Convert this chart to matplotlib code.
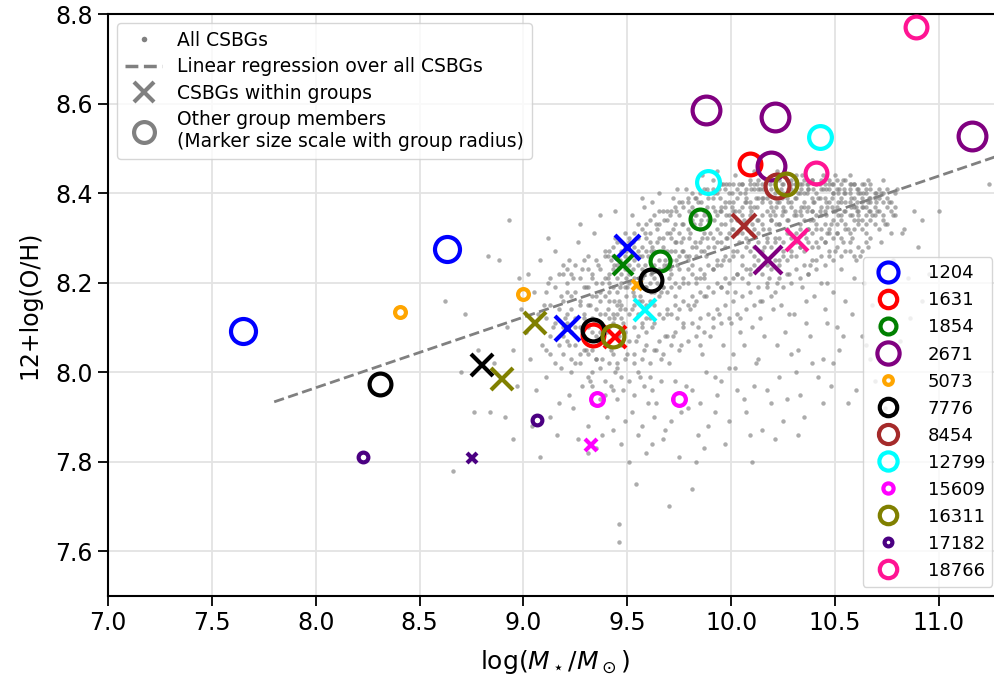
import matplotlib
matplotlib.use("Agg")
import matplotlib.pyplot as plt
from matplotlib.lines import Line2D

# ---------------- data ----------------
# background CSBG cloud: scattered points (hand-estimated)
bg_points = [
    (8.66,7.78),(8.76,7.91),(8.84,7.91),(8.91,7.90),(8.93,8.34),(8.83,8.26),(8.88,8.25),(8.72,8.13),(8.78,8.05),(8.95,8.05),
    (8.97,7.97),(8.86,8.02),(8.92,8.10),(8.98,8.21),(8.70,8.00),(8.62,8.16),(8.95,7.85),(8.99,8.14),
    (9.02,8.22),(9.05,8.18),(9.08,8.25),(9.10,8.15),(9.12,8.20),(9.14,8.10),(9.15,8.27),(9.18,8.17),(9.03,8.03),(9.06,7.96),
    (9.09,8.06),(9.11,7.99),(9.13,8.04),(9.17,7.93),(9.19,8.08),(9.04,7.88),(9.16,7.86),(9.08,7.81),(9.20,8.12),(9.12,8.30),
    (9.19,8.22),(9.01,8.09),(9.07,8.13),(9.13,7.90),(9.18,8.01),
    (9.21,8.18),(9.22,8.25),(9.23,8.14),(9.24,8.21),(9.25,8.10),(9.26,8.29),(9.27,8.16),(9.28,8.23),(9.29,8.12),(9.30,8.19),
    (9.31,8.26),(9.32,8.15),(9.33,8.21),(9.34,8.31),(9.35,8.17),(9.36,8.24),(9.37,8.13),(9.38,8.20),(9.39,8.27),(9.22,8.06),
    (9.25,8.02),(9.28,7.97),(9.30,8.05),(9.33,8.00),(9.36,8.07),(9.39,7.95),(9.24,7.92),(9.31,7.88),(9.35,7.83),(9.27,8.33),
    (9.37,8.35),(9.40,8.09),(9.23,8.00),(9.29,8.08),(9.34,8.11),(9.38,8.03),(9.26,7.85),(9.32,7.98),(9.40,7.90),(9.21,8.11),
    (9.41,8.18),(9.42,8.25),(9.43,8.13),(9.44,8.30),(9.45,8.21),(9.46,8.16),(9.47,8.27),(9.48,8.11),(9.49,8.23),(9.50,8.19),
    (9.51,8.29),(9.52,8.14),(9.53,8.25),(9.54,8.20),(9.55,8.33),(9.56,8.17),(9.57,8.28),(9.58,8.22),(9.59,8.12),(9.60,8.26),
    (9.41,8.22),(9.43,8.28),(9.45,8.15),(9.47,8.20),(9.49,8.31),(9.51,8.24),(9.53,8.17),(9.55,8.27),(9.57,8.21),(9.59,8.30),
    (9.42,8.05),(9.44,8.00),(9.46,8.08),(9.48,7.96),(9.50,8.04),(9.52,7.91),(9.54,8.07),(9.56,7.99),(9.58,8.05),(9.60,7.93),
    (9.43,7.87),(9.47,7.84),(9.51,7.80),(9.55,7.86),(9.59,7.82),(9.46,7.66),(9.46,7.62),(9.44,8.36),(9.52,8.35),(9.58,8.37),
    (9.45,7.94),(9.53,8.02),(9.57,8.10),(9.41,8.10),
    (9.61,8.20),(9.62,8.28),(9.63,8.15),(9.64,8.33),(9.65,8.23),(9.66,8.18),(9.67,8.30),(9.68,8.25),(9.69,8.36),(9.70,8.21),
    (9.71,8.27),(9.72,8.32),(9.73,8.17),(9.74,8.24),(9.75,8.35),(9.76,8.29),(9.77,8.20),(9.78,8.26),(9.79,8.38),(9.80,8.31),
    (9.61,8.31),(9.63,8.24),(9.65,8.36),(9.67,8.19),(9.69,8.27),(9.71,8.22),(9.73,8.33),(9.75,8.26),(9.77,8.30),(9.79,8.23),
    (9.62,8.10),(9.64,8.05),(9.66,7.98),(9.68,8.08),(9.70,8.02),(9.72,7.94),(9.74,8.12),(9.76,8.06),(9.78,7.97),(9.80,8.14),
    (9.63,7.90),(9.67,7.85),(9.71,7.89),(9.75,7.81),(9.79,7.92),(9.65,8.40),(9.72,8.39),(9.78,8.41),(9.69,8.13),(9.77,8.11),
    (9.70,7.70),(9.62,7.96),
    (9.81,8.24),(9.82,8.33),(9.83,8.28),(9.84,8.38),(9.85,8.21),(9.86,8.30),(9.87,8.35),(9.88,8.26),(9.89,8.40),(9.90,8.31),
    (9.91,8.23),(9.92,8.36),(9.93,8.29),(9.94,8.41),(9.95,8.33),(9.96,8.25),(9.97,8.38),(9.98,8.30),(9.99,8.42),(10.00,8.34),
    (9.81,8.37),(9.83,8.20),(9.85,8.32),(9.87,8.27),(9.89,8.34),(9.91,8.39),(9.93,8.24),(9.95,8.37),(9.97,8.28),(9.99,8.35),
    (9.82,8.15),(9.84,8.10),(9.86,8.04),(9.88,8.17),(9.90,8.08),(9.92,7.99),(9.94,8.13),(9.96,8.06),(9.98,8.18),(10.00,8.11),
    (9.85,7.93),(9.89,7.88),(9.93,7.95),(9.97,7.84),(9.83,7.80),(9.91,8.43),(9.96,8.42),(9.87,8.21),(9.95,8.19),(9.99,8.01),
    (10.01,8.27),(10.02,8.36),(10.03,8.31),(10.04,8.40),(10.05,8.24),(10.06,8.34),(10.07,8.38),(10.08,8.29),(10.09,8.42),(10.10,8.33),
    (10.11,8.26),(10.12,8.39),(10.13,8.31),(10.14,8.41),(10.15,8.35),(10.16,8.28),(10.17,8.40),(10.18,8.32),(10.19,8.43),(10.20,8.36),
    (10.01,8.38),(10.03,8.22),(10.05,8.35),(10.07,8.30),(10.09,8.37),(10.11,8.41),(10.13,8.25),(10.15,8.39),(10.17,8.30),(10.19,8.34),
    (10.02,8.18),(10.04,8.12),(10.06,8.06),(10.08,8.20),(10.10,8.10),(10.12,8.02),(10.14,8.16),(10.16,8.08),(10.18,8.21),(10.20,8.14),
    (10.03,7.96),(10.07,7.91),(10.11,7.97),(10.15,7.87),(10.19,7.93),(10.05,8.42),(10.13,8.43),(10.09,8.23),(10.17,8.19),(10.01,8.04),
    (10.21,8.30),(10.22,8.38),(10.23,8.33),(10.24,8.41),(10.25,8.27),(10.26,8.36),(10.27,8.40),(10.28,8.31),(10.29,8.43),(10.30,8.35),
    (10.31,8.29),(10.32,8.40),(10.33,8.33),(10.34,8.42),(10.35,8.37),(10.36,8.30),(10.37,8.41),(10.38,8.34),(10.39,8.43),(10.40,8.38),
    (10.21,8.40),(10.23,8.25),(10.25,8.37),(10.27,8.32),(10.29,8.38),(10.31,8.42),(10.33,8.28),(10.35,8.40),(10.37,8.32),(10.39,8.36),
    (10.22,8.20),(10.24,8.15),(10.26,8.09),(10.28,8.22),(10.30,8.13),(10.32,8.05),(10.34,8.19),(10.36,8.11),(10.38,8.24),(10.40,8.17),
    (10.23,7.99),(10.27,7.94),(10.31,8.00),(10.35,7.90),(10.39,8.02),(10.26,8.44),(10.34,8.44),(10.29,8.26),(10.37,8.22),(10.21,7.85),
    (10.41,8.32),(10.42,8.39),(10.43,8.35),(10.44,8.41),(10.45,8.29),(10.46,8.37),(10.47,8.42),(10.48,8.33),(10.49,8.40),(10.50,8.36),
    (10.51,8.31),(10.52,8.41),(10.53,8.35),(10.54,8.43),(10.55,8.38),(10.56,8.32),(10.57,8.40),(10.58,8.35),(10.59,8.42),(10.60,8.37),
    (10.41,8.25),(10.43,8.20),(10.45,8.14),(10.47,8.26),(10.49,8.18),(10.51,8.10),(10.53,8.23),(10.55,8.16),(10.57,8.27),(10.59,8.21),
    (10.44,8.03),(10.48,7.97),(10.52,8.05),(10.56,7.93),(10.42,8.28),(10.46,8.31),(10.50,8.27),(10.54,8.29),(10.58,8.30),(10.50,8.44),
    (10.61,8.34),(10.62,8.40),(10.63,8.37),(10.64,8.42),(10.65,8.31),(10.66,8.38),(10.67,8.41),(10.68,8.35),(10.69,8.39),(10.70,8.36),
    (10.72,8.40),(10.74,8.33),(10.76,8.38),(10.78,8.35),(10.80,8.41),(10.62,8.26),(10.64,8.20),(10.66,8.28),(10.68,8.15),(10.70,8.23),
    (10.72,8.29),(10.75,8.18),(10.78,8.25),(10.82,8.31),(10.85,8.21),(10.88,8.36),(10.90,8.28),(10.92,8.16),(10.95,8.22),(10.63,8.08),
    (10.67,8.03),(10.71,8.10),(10.76,7.99),(10.81,8.07),(10.86,8.12),(10.60,7.96),(10.74,7.92),(11.24,8.42),(11.00,8.36),(10.92,8.34),
    (10.83,8.32),(10.60,8.25),
    (9.74,8.41),(9.86,8.44),(9.93,8.45),(10.02,8.44),(10.11,8.45),(10.22,8.45),(10.31,8.44),(10.44,8.44),(10.57,8.44),(10.66,8.43),
    (10.73,8.43),(9.57,8.39),(9.62,8.38),
]

# background CSBG cloud: lower, sparser part below the main band (hand-estimated)
bg_lower = [
    (9.22,7.95),(9.27,8.04),(9.33,7.93),(9.38,7.86),(9.42,7.97),(9.49,7.89),(9.53,7.95),(9.57,7.88),(9.61,7.99),(9.64,7.93),
    (9.68,7.87),(9.73,7.98),(9.76,7.91),(9.81,7.96),(9.84,7.86),(9.88,8.00),(9.92,7.91),(9.95,7.98),(9.99,7.89),(10.02,8.01),
    (10.06,7.94),(10.09,7.86),(10.13,8.03),(10.17,7.96),(10.22,8.06),(10.25,7.89),(10.29,8.04),(10.33,7.95),(10.38,8.08),(10.42,7.99),
    (10.46,8.11),(10.49,8.02),(10.54,8.08),(10.58,8.13),(10.65,8.06),(10.69,7.98),(9.66,8.03),(9.72,8.08),(9.85,8.06),(9.91,8.12),
    (10.04,8.09),(10.14,8.12),(10.28,8.13),(10.36,8.16),(10.46,8.20),(9.58,7.97),(9.45,8.02),(9.35,8.03),(9.31,7.82),(9.62,7.84),
    (9.87,7.83),(10.10,7.80),(10.44,7.93),(9.54,7.75),(9.81,7.74),(10.32,7.86),
]

# background CSBG cloud: dense main sequence band, per stellar-mass column (hand-estimated)
bg_core_columns = [
    (9.11,[8.12,8.18,8.05]),(9.13,[8.15,8.21,8.08]),(9.15,[8.11,8.19,8.02]),(9.17,[8.14,8.22,8.06]),
    (9.19,[8.10,8.16,8.24,8.04]),(9.21,[8.13,8.20,8.23,8.07]),(9.23,[8.09,8.17,8.22,8.03]),(9.25,[8.12,8.18,8.24,8.06]),
    (9.27,[8.10,8.15,8.21,8.02]),(9.29,[8.13,8.19,8.25,8.05]),
    (9.31,[8.10,8.15,8.19,8.23,8.04,7.99]),(9.33,[8.12,8.17,8.22,8.09,8.05,7.97]),(9.35,[8.11,8.14,8.20,8.25,8.03,8.08]),
    (9.37,[8.09,8.16,8.18,8.23,8.01,7.94]),(9.39,[8.13,8.17,8.21,8.26,8.06,7.98]),(9.41,[8.12,8.16,8.20,8.27,8.07,8.02]),
    (9.43,[8.11,8.19,8.23,8.26,8.04,7.96]),(9.45,[8.13,8.18,8.24,8.29,8.08,8.01]),(9.47,[8.12,8.15,8.22,8.29,8.06,7.99]),
    (9.49,[8.14,8.19,8.26,8.28,8.09,8.03]),(9.51,[8.13,8.20,8.22,8.30,8.07,7.98]),(9.53,[8.15,8.21,8.28,8.31,8.10,8.04]),
    (9.55,[8.13,8.19,8.24,8.30,8.08,8.00]),(9.57,[8.16,8.23,8.26,8.32,8.11,8.03]),(9.59,[8.15,8.19,8.27,8.33,8.09,8.06]),
    (9.61,[8.16,8.23,8.29,8.34,8.12,8.02]),(9.63,[8.18,8.21,8.27,8.35,8.11,8.05]),(9.65,[8.17,8.25,8.30,8.33,8.13,8.07]),
    (9.67,[8.19,8.23,8.28,8.36,8.12,8.04]),(9.69,[8.18,8.24,8.31,8.34,8.14,8.08]),(9.71,[8.19,8.25,8.30,8.36,8.13,8.06]),
    (9.73,[8.20,8.27,8.29,8.37,8.15,8.09]),(9.75,[8.19,8.23,8.31,8.38,8.14,8.05]),(9.77,[8.21,8.27,8.33,8.37,8.16,8.10]),
    (9.79,[8.20,8.25,8.32,8.39,8.15,8.07]),(9.81,[8.22,8.28,8.34,8.40,8.17,8.11]),(9.83,[8.21,8.26,8.35,8.39,8.16,8.08]),
    (9.85,[8.23,8.29,8.33,8.40,8.18,8.12]),(9.87,[8.22,8.31,8.36,8.41,8.17,8.09]),(9.89,[8.24,8.28,8.35,8.39,8.19,8.13]),
    (9.91,[8.23,8.30,8.37,8.41,8.18,8.10]),(9.93,[8.25,8.32,8.35,8.40,8.20,8.14]),(9.95,[8.24,8.29,8.36,8.42,8.19,8.11]),
    (9.97,[8.26,8.33,8.37,8.41,8.21,8.15]),(9.99,[8.25,8.31,8.38,8.40,8.20,8.12]),(10.01,[8.26,8.32,8.36,8.42,8.21,8.16]),
    (10.03,[8.27,8.34,8.39,8.41,8.22,8.13]),(10.05,[8.26,8.31,8.37,8.42,8.21,8.17]),(10.07,[8.28,8.33,8.39,8.41,8.23,8.14]),
    (10.09,[8.27,8.35,8.38,8.43,8.22,8.18]),(10.11,[8.28,8.32,8.37,8.42,8.24,8.15]),(10.13,[8.29,8.34,8.39,8.41,8.23,8.19]),
    (10.15,[8.27,8.33,8.38,8.42,8.22,8.16]),(10.17,[8.29,8.36,8.39,8.43,8.24,8.20]),(10.19,[8.28,8.34,8.37,8.41,8.23,8.17]),
    (10.21,[8.29,8.35,8.39,8.42,8.25,8.18]),(10.23,[8.30,8.33,8.38,8.43,8.24,8.21]),(10.25,[8.29,8.36,8.40,8.42,8.26,8.19]),
    (10.27,[8.31,8.34,8.39,8.43,8.25,8.22]),(10.29,[8.30,8.37,8.41,8.42,8.27,8.20]),(10.31,[8.31,8.35,8.39,8.43,8.26,8.23]),
    (10.33,[8.32,8.36,8.40,8.42,8.28,8.21]),(10.35,[8.31,8.34,8.38,8.43,8.27,8.24]),(10.37,[8.32,8.37,8.41,8.42,8.29,8.22]),
    (10.39,[8.31,8.36,8.39,8.43,8.28,8.25]),(10.41,[8.33,8.35,8.40,8.42,8.29,8.23]),(10.43,[8.32,8.37,8.41,8.43,8.30,8.26]),
    (10.45,[8.33,8.36,8.39,8.42,8.29,8.24]),(10.47,[8.32,8.38,8.41,8.43,8.31,8.27]),(10.49,[8.34,8.36,8.40,8.42,8.30,8.25]),
    (10.51,[8.33,8.37,8.41,8.43,8.31,8.28]),(10.53,[8.34,8.38,8.39,8.42,8.30,8.26]),(10.55,[8.33,8.36,8.40,8.43,8.32,8.27]),
    (10.57,[8.35,8.38,8.41,8.42,8.31,8.29]),(10.59,[8.34,8.37,8.39,8.42,8.32,8.26]),(10.61,[8.35,8.36,8.40,8.41,8.33,8.28]),
    (10.63,[8.34,8.38,8.39,8.42,8.32,8.27]),(10.65,[8.35,8.37,8.40,8.41,8.33,8.29]),(10.67,[8.36,8.38,8.39,8.42,8.34,8.30]),
    (10.69,[8.35,8.37,8.40,8.33]),(10.71,[8.36,8.39,8.41,8.32]),(10.73,[8.35,8.38,8.40,8.34]),(10.75,[8.37,8.39,8.41,8.33]),
    (10.77,[8.36,8.38,8.31]),(10.79,[8.37,8.40,8.35]),
    (9.405,[8.14,8.21,8.26]),(9.435,[8.16,8.24,8.12]),(9.465,[8.19,8.25,8.14]),(9.495,[8.17,8.27,8.21]),
    (9.525,[8.18,8.23,8.29]),(9.555,[8.21,8.26,8.16]),(9.585,[8.19,8.24,8.31]),(9.615,[8.22,8.27,8.18]),
    (9.645,[8.20,8.29,8.32]),(9.675,[8.24,8.27,8.34]),(9.705,[8.23,8.31,8.35]),(9.735,[8.25,8.29,8.36]),
    (9.765,[8.27,8.33,8.38]),(9.795,[8.26,8.30,8.36]),(9.825,[8.29,8.35,8.39]),(9.855,[8.27,8.34,8.38]),
    (9.885,[8.30,8.37,8.41]),(9.915,[8.28,8.34,8.40]),(9.945,[8.31,8.36,8.39]),(9.975,[8.30,8.35,8.42]),
    (10.005,[8.32,8.37,8.40]),(10.035,[8.29,8.36,8.42]),(10.065,[8.33,8.38,8.40]),(10.095,[8.31,8.36,8.41]),
    (10.125,[8.34,8.37,8.42]),(10.155,[8.32,8.39,8.41]),(10.185,[8.35,8.38,8.42]),(10.215,[8.33,8.37,8.41]),
    (10.245,[8.35,8.39,8.42]),(10.275,[8.34,8.38,8.41]),(10.305,[8.36,8.39,8.42]),(10.335,[8.35,8.37,8.41]),
    (10.365,[8.36,8.40,8.42]),(10.395,[8.34,8.38,8.41]),(10.425,[8.36,8.39,8.42]),(10.455,[8.35,8.38,8.41]),
    (10.485,[8.37,8.39,8.42]),(10.515,[8.35,8.38,8.40]),(10.545,[8.36,8.40,8.41]),(10.575,[8.37,8.39,8.42]),
    (10.605,[8.36,8.38,8.41]),(10.635,[8.37,8.40]),(10.665,[8.36,8.39]),(10.695,[8.38,8.40]),
]

# linear regression over all CSBGs
reg_slope = 0.1577
reg_intercept = 6.7036
reg_x_range = (7.8, 11.4)

group_ids = ["1204", "1631", "1854", "2671", "5073", "7776", "8454",
             "12799", "15609", "16311", "17182", "18766"]
group_colors = ["blue", "red", "green", "purple", "orange", "black", "brown",
                "cyan", "magenta", "olive", "indigo", "deeppink"]
# marker size (scales with group radius)
group_msize = [18, 15.7, 14.3, 20, 7.8, 15.7, 17.2, 16.4, 9.2, 15.7, 7, 15.7]

# other group members (circles)
members_x = [[7.648, 8.63], [9.336, 10.09], [9.657, 9.85], [9.878, 10.21, 10.19, 11.159],
             [8.405, 9.0], [8.309, 9.333, 9.615], [10.218], [9.89, 10.427],
             [9.352, 9.75], [9.43, 10.262], [9.063, 8.229], [10.41, 10.888]]
members_y = [[8.091, 8.274], [8.083, 8.465], [8.248, 8.343], [8.585, 8.57, 8.46, 8.527],
             [8.135, 8.175], [7.973, 8.094, 8.205], [8.416], [8.425, 8.525],
             [7.939, 7.939], [8.08, 8.420], [7.894, 7.811], [8.444, 8.772]]
# CSBGs within groups (crosses)
csbg_x = [[9.211, 9.497], [9.44], [9.48], [10.175], [9.545], [8.80], [10.06],
          [9.585], [9.323], [9.055, 8.898], [8.754], [10.315]]
csbg_y = [[8.099, 8.28], [8.079], [8.239], [8.25], [8.194], [8.016], [8.326],
          [8.139], [7.838], [8.109, 7.984], [7.809], [8.295]]

xticks = [7.0, 7.5, 8.0, 8.5, 9.0, 9.5, 10.0, 10.5, 11.0]
yticks = [7.6, 7.8, 8.0, 8.2, 8.4, 8.6, 8.8]

# ---------------- figure ----------------
fig = plt.figure(figsize=(9.95, 6.86), dpi=100)
ax = fig.add_axes([108/995, 90/686, 893.3/995, 582/686])
ax.set_xlim(7.0, 11.3)
ax.set_ylim(7.5, 8.8)
ax.set_xticks(xticks)
ax.set_yticks(yticks)
ax.grid(True, color="#e3e3e3", linewidth=1.3, zorder=0)
ax.set_axisbelow(True)
ax.tick_params(labelsize=17, length=7, width=1.3, pad=4, direction="out")
for s in ax.spines.values():
    s.set_linewidth(1.5)

bx = [p[0] for p in bg_points] + [p[0] for p in bg_lower]
by = [p[1] for p in bg_points] + [p[1] for p in bg_lower]
for cx_, ys in bg_core_columns:
    bx.extend([cx_] * len(ys))
    by.extend(ys)
ax.plot(bx, by, ls="none", marker="o", ms=3.2, mew=0, color="gray", alpha=0.65, zorder=2)

rx = list(reg_x_range)
ry = [reg_intercept + reg_slope * v for v in rx]
ax.plot(rx, ry, ls="--", lw=2, color="gray", zorder=3)

group_handles = []
for gid, col, ms, mx, my, cx, cy in zip(group_ids, group_colors, group_msize,
                                        members_x, members_y, csbg_x, csbg_y):
    h, = ax.plot(mx, my, ls="none", marker="o", ms=ms, mfc="none", mec=col, mew=3, zorder=5)
    ax.plot(cx, cy, ls="none", marker="x", ms=ms, mec=col, mew=3, zorder=5)
    group_handles.append(h)

ax.set_xlabel(r"log($M_\star/M_\odot$)", fontsize=18, labelpad=9)
ax.set_ylabel("12+log(O/H)", fontsize=17, labelpad=10)

h1 = Line2D([], [], ls="none", marker="o", ms=4, mew=0, color="gray")
h2 = Line2D([], [], ls="--", lw=2.5, color="gray")
h3 = Line2D([], [], ls="none", marker="x", ms=15, mew=3, color="gray")
h4 = Line2D([], [], ls="none", marker="o", ms=15, mfc="none", mec="gray", mew=3)
leg1 = ax.legend([h1, h2, h3, h4],
                 ["All CSBGs", "Linear regression over all CSBGs", "CSBGs within groups",
                  "Other group members\n(Marker size scale with group radius)"],
                 loc="upper left", fontsize=13.5, handlelength=2.0, labelspacing=0.4)
ax.add_artist(leg1)
ax.legend(group_handles, group_ids, loc="lower right", fontsize=13,
          markerscale=0.8, handletextpad=1.2)

fig.savefig("out.png", dpi=100)
